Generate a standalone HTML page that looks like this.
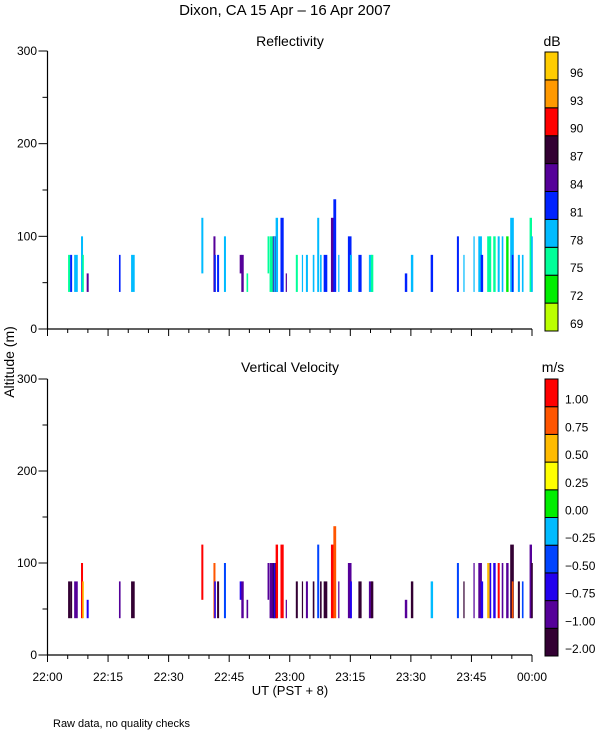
<!DOCTYPE html>
<html><head><meta charset="utf-8">
<style>
html,body{margin:0;padding:0;background:#fff;}
svg{display:block;font-family:"Liberation Sans",sans-serif;}
</style></head>
<body>
<svg id="chart" width="600" height="750" viewBox="0 0 600 750" xmlns="http://www.w3.org/2000/svg">
<rect width="600" height="750" fill="#fff"/>
<text x="285" y="15" font-size="15" text-anchor="middle">Dixon, CA 15 Apr – 16 Apr 2007</text>
<text x="290" y="46" font-size="14" text-anchor="middle">Reflectivity</text>
<text x="290" y="372" font-size="14" text-anchor="middle">Vertical Velocity</text>
<text x="552" y="46" font-size="14" text-anchor="middle">dB</text>
<text x="553" y="372" font-size="14" text-anchor="middle">m/s</text>
<text x="0" y="0" font-size="14" text-anchor="middle" transform="translate(14,362) rotate(-90)">Altitude (m)</text>
<text x="290" y="695" font-size="13" text-anchor="middle">UT  (PST + 8)</text>
<text x="53" y="727" font-size="11">Raw data, no quality checks</text>
<g id="layer"></g>
</svg>
<script>
// ---- data ----
const xTickLabels = ["22:00","22:15","22:30","22:45","23:00","23:15","23:30","23:45","00:00"];
const yTickValues = [0,100,200,300];
const reflLevels = [69,72,75,78,81,84,87,90,93,96];
const reflColors = ["#bbff00","#00ee00","#00ff99","#00bbff","#0022ff","#550099","#330033","#ff0000","#ff9900","#ffcc00"];
const velLevels = [-2.00,-1.00,-0.75,-0.50,-0.25,0.00,0.25,0.50,0.75,1.00];
const velLabels = ["-2.00","-1.00","-0.75","-0.50","-0.25","0.00","0.25","0.50","0.75","1.00"];
const velColors = ["#330033","#550099","#2200ee","#0044ff","#00bbff","#00ee00","#ffff00","#ffbb00","#ff5500","#ff0000"];
// profiles: minutes after 22:00, duration (min), bottom/top altitude (m), reflectivity (dB), velocity (m/s)
const barTime   = [5.1,5.6,6.6,8.3,8.6,9.7,17.7,20.7,38.1,41.1,41.3,42.0,43.7,47.6,48.0,49.3,55.0,55.8,56.5,57.7,59.0,61.5,64.0,65.7,66.8,67.5,68.4,70.2,70.8,74.4,74.9,77.0,79.6,80.1,88.5,90.0,94.9,101.4,106.7,107.3,108.9,110.4,111.5,113.6,114.6,115.0,116.5,119.4,119.8,54.5,56.0,63.0,72.0,103.0,105.5,109.5,112.5,117.5];
const barDur    = [0.5,0.5,0.9,0.5,0.4,0.5,0.4,0.9,0.5,0.5,0.4,0.5,0.5,0.5,0.6,0.4,1.0,1.2,0.6,0.8,0.3,0.5,0.5,0.4,0.5,0.4,0.9,0.7,0.7,0.9,0.5,0.8,0.9,0.6,0.6,0.6,0.6,0.5,0.9,0.6,0.8,0.6,0.5,0.6,0.9,0.4,0.5,0.6,0.4,0.4,0.4,0.3,0.3,0.3,0.3,0.4,0.4,0.4];
const barBottom = [40,40,40,40,40,40,40,40,60,40,40,40,40,60,40,40,40,40,40,40,40,40,40,40,40,40,40,40,40,40,40,40,40,40,40,40,40,40,40,40,40,40,40,40,40,40,40,40,40,60,40,40,40,40,40,40,40,40];
const barTop    = [80,80,80,100,80,60,80,80,120,100,80,80,100,80,80,60,100,100,120,120,60,80,80,80,120,80,80,120,140,100,80,80,80,80,60,80,80,100,100,80,100,100,100,100,120,80,80,120,100,100,100,80,80,80,100,100,100,80];
const barRefl   = [76,82,79,79,76,85,82,79,79,85,82,82,79,85,85,76,76,85,79,82,85,76,79,79,79,79,82,85,82,82,79,82,79,76,82,79,82,82,79,82,76,76,79,73,79,82,79,76,79,76,79,79,79,79,79,76,79,79];
const barVel    = [-1.5,-1.5,-0.9,1.1,0.6,-0.6,-0.9,-1.5,1.1,0.9,-0.6,-1.5,-0.4,-0.6,-0.8,-0.9,-0.9,-1.5,1.1,1.1,-0.9,-1.5,-0.9,-1.5,-0.4,-1.5,-1.5,1.1,0.8,-0.9,-0.6,-1.5,-0.9,-1.5,-0.9,-1.5,-0.1,-0.4,-0.9,-0.6,0.6,-0.6,1.1,-0.9,-1.5,0.8,-1.5,-0.9,-1.5,-0.9,-0.6,-1.5,-0.9,-1.5,-0.9,-0.6,-0.9,-0.4];

// ---- scales ----
const X0=47.5, X1=532;
const xs = m => X0 + (X1-X0)*m/120;
const panels = [{y0:329,y300:51,name:"reflectivity"},{y0:655,y300:379,name:"velocity"}];
const ys = (p,a) => p.y0 + (p.y300-p.y0)*a/300;
function colorFor(v, levels, colors){let i=0;for(let k=0;k<levels.length;k++){if(v>=levels[k])i=k;}return colors[i];}

const NS="http://www.w3.org/2000/svg";
const layer=document.getElementById('layer');
function mk(tag, attrs){const e=document.createElementNS(NS,tag);for(const k in attrs)e.setAttribute(k,attrs[k]);layer.appendChild(e);return e;}

panels.forEach((p,pi)=>{
  for(let i=0;i<barTime.length;i++){
    const xa=xs(barTime[i]), xb=xs(barTime[i]+barDur[i]);
    const ya=ys(p,barTop[i]), yb=ys(p,barBottom[i]);
    const col = pi===0 ? colorFor(barRefl[i],reflLevels,reflColors) : colorFor(barVel[i],velLevels,velColors);
    const r=mk('rect',{x:xa,y:ya,width:Math.max(1,xb-xa),height:yb-ya,fill:col});
    
    
  }
  const ax=mk('path',{d:`M${X0},${p.y300}V${p.y0}H${X1}`,stroke:"#000",fill:"none","stroke-width":1.2});
  
  
  for(let a=0;a<=300;a+=50){
    const y=ys(p,a); const major=a%100===0;
    const t=mk('line',{x1:X0-(major?9:5),x2:X0,y1:y,y2:y,stroke:"#000"});
    
    
  }
  yTickValues.forEach(v=>{
    const t=mk('text',{x:37,y:ys(p,v)+4,"font-size":12,"text-anchor":"end"});
    t.textContent=v;
    
    
  });
  for(let m=0;m<=120;m+=5){
    const major=m%15===0;
    const t=mk('line',{x1:xs(m),x2:xs(m),y1:p.y0,y2:p.y0+(major?7:4),stroke:"#000"});
    
    
  }
  if(pi===1){
    xTickLabels.forEach((s,k)=>{
      const t=mk('text',{x:xs(k*15),y:681,"font-size":12,"text-anchor":"middle"});
      t.textContent=s;
      
      
    });
  }
  const top=pi===0?52:379, bot=pi===0?331:656, n=10, h=(bot-top)/n;
  const cols = pi===0?reflColors:velColors;
  for(let k=0;k<n;k++){
    const y=bot-(k+1)*h;
    const r=mk('rect',{x:545,y:y,width:13,height:h,fill:cols[k],stroke:"#000","stroke-width":1});
    
    
    const lbl = pi===0 ? String(reflLevels[k]) : velLabels[k].replace('-','−');
    const t=mk('text',{x:pi===0?570:565,y:bot-k*h-3,"font-size":12});
    t.textContent=lbl;
    
    
  }
});
</script>
</body></html>
